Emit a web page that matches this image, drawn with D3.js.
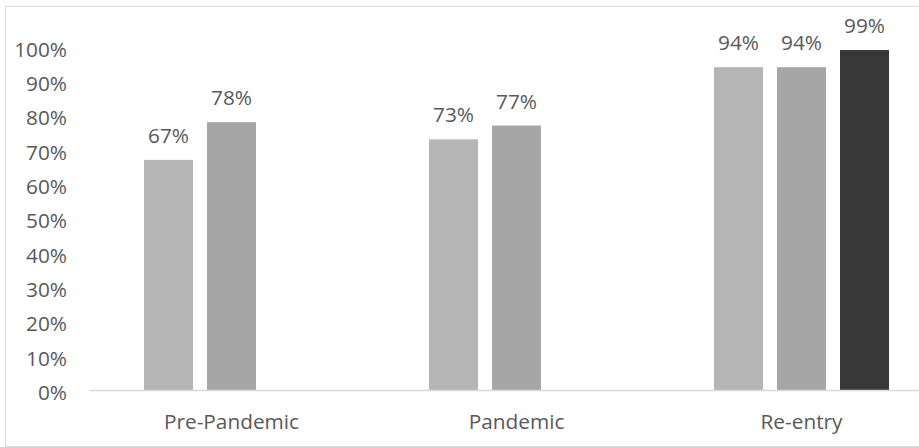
<!DOCTYPE html>
<html>
<head>
<meta charset="utf-8">
<script src="https://cdn.jsdelivr.net/npm/d3@7"></script>
<style>
  html, body { margin: 0; padding: 0; background: #fff; }
  svg { display: block; }
  text { font-family: "Open Sans", "Noto Sans", sans-serif; fill: #595959; }
</style>
</head>
<body>
<svg id="chart" width="919" height="447"></svg>
<script>
// Categories along the x axis
const categories = ["Pre-Pandemic", "Pandemic", "Re-entry"];
// Series shown in each group (null = no bar)
const seriesNames = ["Series 1", "Series 2", "Series 3"];
const series1 = [0.67, 0.73, 0.94];
const series2 = [0.78, 0.77, 0.94];
const series3 = [null, null, 0.99];
const seriesValues = [series1, series2, series3];
const seriesColors = ["#b5b5b5", "#a6a6a6", "#383838"];
// Y axis ticks
const yTicks = [0, 0.1, 0.2, 0.3, 0.4, 0.5, 0.6, 0.7, 0.8, 0.9, 1.0];

const svg = d3.select("#chart");
const fontSize = 20.8;

// Outer chart frame (right side extends beyond the view)
svg.append("rect")
  .attr("x", 5.5).attr("y", 6.5)
  .attr("width", 960).attr("height", 440)
  .attr("fill", "none")
  .attr("stroke", "#d9d9d9")
  .attr("stroke-width", 1);

const plot = { left: 89, right: 944, top: 46.6, bottom: 390 };

const y = d3.scaleLinear().domain([0, 1]).range([plot.bottom, plot.top]);
const x0 = d3.scaleBand().domain(categories).range([plot.left, plot.right]).padding(0);
const x1 = d3.scaleBand().domain(seriesNames).range([0, x0.bandwidth()])
  .paddingInner(0.222).paddingOuter(0.873);

// Y axis labels (no axis line, no ticks)
const yAxis = d3.axisLeft(y).tickValues(yTicks).tickFormat(d3.format(".0%")).tickSize(0).tickPadding(0);
const yG = svg.append("g").attr("transform", "translate(67,0)").call(yAxis);
yG.select(".domain").remove();
yG.selectAll("text")
  .attr("font-size", fontSize)
  .attr("font-family", "'Open Sans', sans-serif")
  .attr("fill", "#595959")
  .attr("dy", 9.5);

// Bars
const rows = [];
categories.forEach((c, ci) => {
  seriesNames.forEach((s, si) => {
    const v = seriesValues[si][ci];
    if (v !== null) rows.push({ cat: c, series: s, si, value: v });
  });
});

const groups = svg.append("g");
groups.selectAll("rect.bar")
  .data(rows)
  .join("rect")
  .attr("class", "bar")
  .attr("x", d => x0(d.cat) + x1(d.series))
  .attr("y", d => y(d.value))
  .attr("width", x1.bandwidth())
  .attr("height", d => y(0) - y(d.value))
  .attr("fill", d => seriesColors[d.si]);

// Value labels above bars
groups.selectAll("text.val")
  .data(rows)
  .join("text")
  .attr("class", "val")
  .attr("x", d => x0(d.cat) + x1(d.series) + x1.bandwidth() / 2)
  .attr("y", d => y(d.value) - 17)
  .attr("text-anchor", "middle")
  .attr("font-size", fontSize)
  .text(d => d3.format(".0%")(d.value));

// X axis line and category labels
const xAxis = d3.axisBottom(x0).tickSize(0).tickPadding(0);
const xG = svg.append("g").attr("transform", `translate(0,${plot.bottom})`).call(xAxis);
xG.select(".domain").attr("stroke", "#d9d9d9").attr("stroke-width", 1.5);
xG.selectAll("text")
  .attr("font-size", fontSize)
  .attr("font-family", "'Open Sans', sans-serif")
  .attr("fill", "#595959")
  .attr("dy", 0)
  .attr("y", 39);
</script>
</body>
</html>
